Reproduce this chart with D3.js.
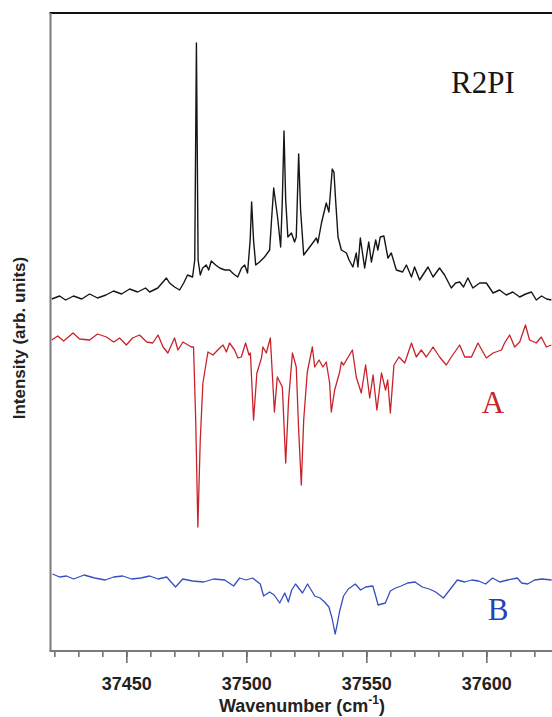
<!DOCTYPE html>
<html>
<head>
<meta charset="utf-8">
<script src="https://cdn.jsdelivr.net/npm/d3@7"></script>
<style>
  body { margin: 0; background: #fff; }
  svg { display: block; }
</style>
</head>
<body>
<div id="chart"></div>
<script>
"use strict";

// wavenumber (cm-1) / intensity (arb. units)
const r2piWn = [37418.9, 37422.2, 37424.7, 37428.0, 37431.4, 37434.7, 37438.0, 37441.5, 37444.7, 37448.0,
    37451.4, 37454.7, 37458.0, 37459.7, 37463.1, 37466.7, 37468.0, 37470.1, 37472.2, 37473.9,
    37475.5, 37477.6, 37478.5, 37479.2, 37479.9, 37480.8, 37481.8, 37483.3, 37484.3, 37485.4,
    37487.2, 37488.9, 37491.0, 37493.0, 37494.7, 37496.4, 37498.0, 37499.3, 37500.5, 37501.6,
    37502.2, 37503.0, 37503.9, 37505.5, 37507.6, 37509.7, 37510.5, 37511.4, 37513.0, 37514.3,
    37515.0, 37515.7, 37516.4, 37517.3, 37518.8, 37520.1, 37520.8, 37521.8, 37522.6, 37523.9,
    37526.4, 37529.2, 37529.8, 37531.3, 37531.9, 37533.3, 37534.4, 37535.8, 37536.5, 37537.2,
    37538.2, 37539.6, 37541.7, 37542.8, 37544.4, 37545.8, 37546.5, 37547.5, 37549.3, 37551.0,
    37552.1, 37553.9, 37554.8, 37555.8, 37557.3, 37559.0, 37560.4, 37562.5, 37565.1, 37566.7,
    37568.8, 37570.1, 37572.2, 37575.7, 37577.8, 37580.5, 37582.6, 37585.4, 37587.2, 37588.9,
    37590.5, 37592.3, 37594.4, 37597.2, 37600.0, 37602.8, 37605.5, 37608.3, 37611.0, 37613.9,
    37616.4, 37618.8, 37620.8, 37623.0, 37625.1, 37627.1];
const r2piVal = [352, 355, 351, 355, 352, 357, 353, 356, 360, 357,
    362, 359, 363, 359, 363, 373, 368, 364, 361, 368,
    376, 374, 391, 608, 391, 376, 383, 386, 381, 390,
    386, 383, 381, 381, 377, 374, 383, 386, 378, 411,
    449, 411, 386, 389, 394, 401, 431, 463, 434, 404,
    451, 520, 451, 414, 418, 409, 414, 497, 441, 396,
    404, 413, 408, 428, 434, 448, 439, 482, 479, 451,
    414, 401, 398, 391, 384, 398, 384, 413, 383, 409,
    389, 411, 401, 414, 415, 393, 398, 381, 379, 386,
    374, 384, 371, 384, 374, 383, 376, 363, 368, 369,
    364, 373, 363, 368, 368, 358, 361, 356, 359, 354,
    357, 359, 351, 355, 352, 351];

const aWn = [37418.9, 37421.4, 37423.9, 37427.8, 37430.5, 37434.7, 37438.0, 37441.7, 37444.7, 37447.2,
    37450.0, 37452.6, 37455.5, 37458.5, 37461.0, 37463.2, 37465.3, 37467.3, 37470.1, 37471.5,
    37473.6, 37477.1, 37478.0, 37478.9, 37479.8, 37480.8, 37481.9, 37484.0, 37486.1, 37488.9,
    37490.3, 37491.7, 37493.0, 37495.1, 37496.5, 37497.9, 37499.7, 37501.1, 37501.7, 37503.0,
    37504.4, 37506.3, 37506.9, 37508.3, 37510.0, 37511.7, 37512.9, 37515.0, 37516.4, 37517.6,
    37519.2, 37520.8, 37521.8, 37522.9, 37523.9, 37525.4, 37527.5, 37528.5, 37530.3, 37531.9,
    37533.3, 37534.7, 37535.4, 37536.8, 37538.9, 37539.6, 37540.5, 37541.7, 37544.2, 37545.8,
    37547.9, 37549.7, 37551.4, 37552.8, 37554.4, 37556.3, 37558.0, 37558.9, 37560.0, 37561.5,
    37563.6, 37566.0, 37568.8, 37570.8, 37572.9, 37575.0, 37577.8, 37580.5, 37583.3, 37585.4,
    37588.9, 37591.0, 37593.8, 37596.5, 37600.0, 37602.8, 37606.3, 37607.6, 37609.7, 37611.8,
    37613.9, 37616.3, 37618.0, 37620.8, 37622.9, 37625.0, 37627.1];
const aVal = [311, 315, 310, 318, 312, 311, 317, 314, 309, 313,
    306, 313, 316, 309, 308, 316, 304, 298, 313, 301,
    309, 304, 304, 231, 124, 211, 268, 299, 296, 303,
    306, 299, 308, 301, 293, 294, 308, 296, 298, 231,
    278, 293, 304, 298, 313, 239, 274, 264, 188, 251,
    298, 284, 221, 166, 231, 279, 304, 284, 291, 284,
    289, 268, 239, 261, 279, 289, 286, 291, 301, 274,
    258, 286, 253, 276, 241, 278, 261, 271, 238, 286,
    294, 288, 308, 294, 301, 294, 304, 294, 286, 294,
    306, 294, 294, 308, 293, 298, 301, 308, 316, 304,
    309, 326, 311, 308, 314, 304, 306];

const bWn = [37419.2, 37422.2, 37425.1, 37428.0, 37432.4, 37436.8, 37441.2, 37444.7, 37448.5, 37452.2,
    37456.0, 37459.7, 37463.3, 37466.8, 37470.5, 37473.5, 37477.6, 37482.2, 37486.4, 37491.0,
    37494.7, 37497.2, 37499.9, 37502.6, 37505.8, 37507.2, 37509.7, 37511.6, 37513.9, 37516.0,
    37517.5, 37518.9, 37520.5, 37523.4, 37525.5, 37528.5, 37530.7, 37532.6, 37534.4, 37535.7,
    37537.0, 37537.8, 37538.8, 37540.5, 37542.5, 37545.4, 37547.6, 37549.7, 37552.7, 37553.9,
    37554.9, 37557.9, 37560.0, 37562.2, 37564.5, 37567.2, 37570.3, 37573.3, 37576.2, 37578.9,
    37582.1, 37584.7, 37587.9, 37591.0, 37593.9, 37596.8, 37599.7, 37602.6, 37605.6, 37608.9,
    37612.9, 37614.7, 37617.2, 37620.1, 37623.2, 37627.2];
const bVal = [77, 74, 75, 72, 76, 73, 71, 74, 75, 72,
    73, 75, 72, 74, 64, 72, 70, 69, 72, 71,
    65, 73, 71, 73, 67, 55, 59, 56, 48, 58,
    49, 61, 67, 58, 67, 55, 53, 49, 44, 33,
    17, 26, 39, 55, 62, 67, 61, 64, 65, 55,
    46, 48, 60, 63, 65, 68, 69, 64, 62, 59,
    53, 61, 71, 69, 71, 70, 67, 73, 69, 71,
    73, 68, 67, 71, 72, 71];

const majorTicks = [37450, 37500, 37550, 37600];
const minorTicks = d3.range(37420, 37630, 10);

(function () {
    const width = 552;
    const height = 717;
    const plotLeft = 50.5;
    const plotTop = 13;
    const plotBottom = 651;

    const x = d3.scaleLinear().domain([37418.4, 37630]).range([plotLeft, plotLeft + 211.6 * 2.4]);
    const y = d3.scaleLinear().domain([0, 640]).range([plotBottom, plotBottom - 640]);

    const svg = d3.select("#chart").append("svg")
        .attr("width", width)
        .attr("height", height);

    svg.append("defs").append("clipPath").attr("id", "plot-clip")
        .append("rect")
        .attr("x", plotLeft).attr("y", plotTop)
        .attr("width", width - plotLeft).attr("height", plotBottom - plotTop);

    const line = d3.line()
        .x(d => x(d[0]))
        .y(d => y(d[1]));

    function drawTrace(wn, vals, color, sw) {
        svg.append("path")
            .datum(d3.zip(wn, vals))
            .attr("clip-path", "url(#plot-clip)")
            .attr("fill", "none")
            .attr("stroke", color)
            .attr("stroke-width", sw)
            .attr("stroke-linejoin", "round")
            .attr("d", line);
    }

    drawTrace(r2piWn, r2piVal, "#161616", 1.4);
    drawTrace(aWn, aVal, "#c8232b", 1.3);
    drawTrace(bWn, bVal, "#3550c0", 1.3);

    // frame: black top, gray left + bottom
    svg.append("line")
        .attr("x1", plotLeft - 1).attr("x2", width)
        .attr("y1", plotTop).attr("y2", plotTop)
        .attr("stroke", "#111").attr("stroke-width", 2);
    svg.append("line")
        .attr("x1", plotLeft).attr("x2", plotLeft)
        .attr("y1", plotTop).attr("y2", plotBottom)
        .attr("stroke", "#7a7a7a").attr("stroke-width", 2);

    const xAxisMinor = d3.axisBottom(x)
        .tickValues(minorTicks)
        .tickSize(6)
        .tickFormat("");
    const xAxisMajor = d3.axisBottom(x)
        .tickValues(majorTicks)
        .tickSize(12)
        .tickPadding(14)
        .tickFormat(d3.format("d"));

    const gMinor = svg.append("g")
        .attr("transform", `translate(0,${plotBottom})`)
        .call(xAxisMinor);
    gMinor.select(".domain").remove();
    gMinor.selectAll("line").attr("stroke", "#666").attr("stroke-width", 1.5);

    const gMajor = svg.append("g")
        .attr("transform", `translate(0,${plotBottom})`)
        .call(xAxisMajor);
    gMajor.select(".domain").remove();
    gMajor.selectAll("line").attr("stroke", "#666").attr("stroke-width", 1.5);
    gMajor.selectAll("text")
        .attr("font-family", "Liberation Sans, Arial, sans-serif")
        .attr("font-weight", "bold")
        .attr("font-size", 18)
        .attr("fill", "#222");

    svg.append("line")
        .attr("x1", plotLeft - 1).attr("x2", width)
        .attr("y1", plotBottom).attr("y2", plotBottom)
        .attr("stroke", "#7a7a7a").attr("stroke-width", 2);

    // axis titles
    const xTitle = svg.append("text")
        .attr("x", 302)
        .attr("y", 712)
        .attr("text-anchor", "middle")
        .attr("font-family", "Liberation Sans, Arial, sans-serif")
        .attr("font-weight", "bold")
        .attr("font-size", 18)
        .attr("fill", "#222");
    xTitle.append("tspan").text("Wavenumber (cm");
    xTitle.append("tspan").attr("dy", -8).attr("font-size", 12).text("-1");
    xTitle.append("tspan").attr("dy", 8).text(")");

    svg.append("text")
        .attr("transform", "translate(25,338) rotate(-90)")
        .attr("text-anchor", "middle")
        .attr("font-family", "Liberation Sans, Arial, sans-serif")
        .attr("font-weight", "bold")
        .attr("font-size", 17)
        .attr("fill", "#222")
        .text("Intensity (arb. units)");

    // trace labels
    svg.append("text")
        .attr("x", 451).attr("y", 93)
        .attr("font-family", "Liberation Serif, Times New Roman, serif")
        .attr("font-size", 31)
        .attr("fill", "#161616")
        .text("R2PI");
    svg.append("text")
        .attr("x", 493).attr("y", 413)
        .attr("text-anchor", "middle")
        .attr("font-family", "Liberation Serif, Times New Roman, serif")
        .attr("font-size", 31)
        .attr("fill", "#c8232b")
        .text("A");
    svg.append("text")
        .attr("x", 498).attr("y", 620)
        .attr("text-anchor", "middle")
        .attr("font-family", "Liberation Serif, Times New Roman, serif")
        .attr("font-size", 31)
        .attr("fill", "#2a40b8")
        .text("B");
})();
</script>
</body>
</html>
